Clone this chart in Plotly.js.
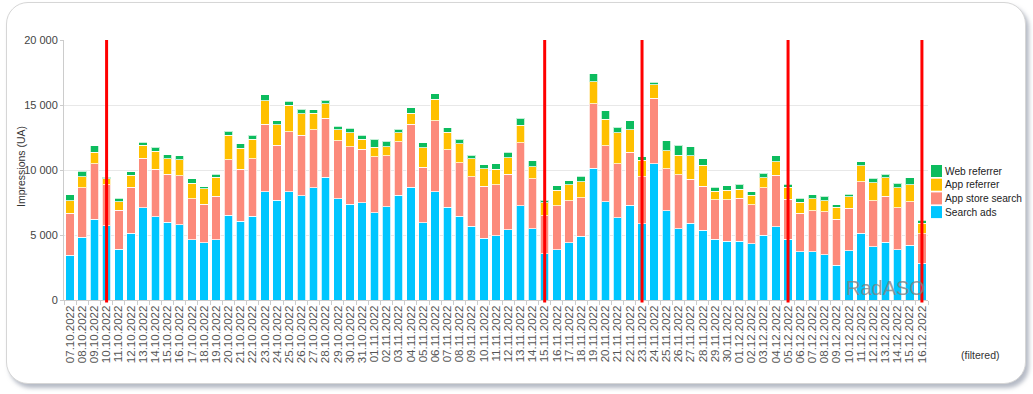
<!DOCTYPE html>
<html>
<head>
<meta charset="utf-8">
<script src="https://cdn.plot.ly/plotly-3.0.1.min.js"></script>
<style>
  html, body { margin: 0; padding: 0; background: #ffffff; }
  #wrap { position: relative; width: 1033px; height: 394px; overflow: hidden; background: #ffffff; }
  #card { position: absolute; left: 6px; top: 2px; width: 1018px; height: 380px;
          border: 1px solid #d6d6d6; border-radius: 22px; background: #fff;
          box-shadow: 3px 4px 4px rgba(120,130,150,0.55); }
  #chart { position: absolute; left: 0; top: 0; width: 1033px; height: 394px; }
</style>
</head>
<body>
<div id="wrap">
  <div id="card"></div>
  <div id="chart"></div>
</div>
<script>
const dates = [
  "07.10.2022","08.10.2022","09.10.2022","10.10.2022","11.10.2022","12.10.2022","13.10.2022","14.10.2022","15.10.2022","16.10.2022",
  "17.10.2022","18.10.2022","19.10.2022","20.10.2022","21.10.2022","22.10.2022","23.10.2022","24.10.2022","25.10.2022","26.10.2022",
  "27.10.2022","28.10.2022","29.10.2022","30.10.2022","31.10.2022","01.11.2022","02.11.2022","03.11.2022","04.11.2022","05.11.2022",
  "06.11.2022","07.11.2022","08.11.2022","09.11.2022","10.11.2022","11.11.2022","12.11.2022","13.11.2022","14.11.2022","15.11.2022",
  "16.11.2022","17.11.2022","18.11.2022","19.11.2022","20.11.2022","21.11.2022","22.11.2022","23.11.2022","24.11.2022","25.11.2022",
  "26.11.2022","27.11.2022","28.11.2022","29.11.2022","30.11.2022","01.12.2022","02.12.2022","03.12.2022","04.12.2022","05.12.2022",
  "06.12.2022","07.12.2022","08.12.2022","09.12.2022","10.12.2022","11.12.2022","12.12.2022","13.12.2022","14.12.2022","15.12.2022",
  "16.12.2022"
];
const searchAds = [
  3460,4820,6230,5720,3900,5150,7080,6410,5970,5790,
  4640,4410,4640,6510,6050,6440,8330,7670,8330,8030,
  8640,9440,7770,7360,7490,6720,7180,8050,8690,5950,
  8330,7130,6440,5670,4740,4950,5410,7260,5490,3560,
  3870,4410,4900,10130,7560,6330,7280,5850,10490,6850,
  5490,5920,5360,4670,4510,4510,4310,5000,5620,4690,
  3720,3720,3490,2690,3790,5150,4080,4440,3870,4230,
  2820
];
const appStoreSearch = [
  3230,3820,4260,3150,3020,3540,3840,3640,3720,3750,
  3130,2970,3330,4260,4000,4430,5180,4250,4620,4640,
  4440,4560,4490,4410,4100,4310,3920,4130,4820,4260,
  5460,4410,4120,3820,4000,3920,4280,4820,3840,2930,
  3390,3210,2970,4970,4290,4160,4080,3640,5020,3230,
  4150,3360,3380,3050,3210,3310,3000,3640,3970,3050,
  2950,3130,3300,3520,3260,3930,3540,3530,3210,3330,
  2280
];
const appReferrer = [
  930,850,890,440,640,900,1000,1410,1160,1230,
  1230,1160,1470,1900,1640,1490,1820,1570,2050,1660,
  1300,1100,820,1080,790,710,670,670,870,1510,
  1650,1380,1470,1360,1360,1180,1260,1380,930,1000,
  1200,1230,1230,1690,2050,2360,1720,1250,1030,1410,
  1510,1800,1640,640,740,690,740,770,1050,930,
  840,920,850,920,900,1250,1410,1440,1560,1310,
  800
];
const webReferrer = [
  460,430,490,130,260,260,230,280,330,330,
  310,180,230,300,340,310,460,280,280,360,
  240,260,280,360,290,620,440,280,410,380,
  430,340,350,300,310,440,410,510,460,200,
  310,330,410,620,660,430,690,290,200,770,
  770,710,470,310,310,410,280,330,440,250,
  310,330,360,200,200,310,350,260,360,540,
  250
];
const markerDates = ["10.10.2022","15.11.2022","23.11.2022","05.12.2022","16.12.2022"];
const yTickVals = [0, 5000, 10000, 15000, 20000];
const yTickText = ["0", "5 000", "10 000", "15 000", "20 000"];
const seriesNames = ["Search ads", "App store search", "App referrer", "Web referrer"];
const seriesColors = ["#00c6ff", "#fc8a7b", "#ffc000", "#0cbc5e"];
const seriesValues = [searchAds, appStoreSearch, appReferrer, webReferrer];

const W = 1033, H = 394;
const M = { l: 64, r: 105, t: 40, b: 94 };
const plotW = W - M.l - M.r, plotH = H - M.t - M.b;
const px2x = px => (px - M.l) / plotW;
const py2y = py => (M.t + plotH - py) / plotH;

const outline = { color: "rgba(255,255,255,0.75)", width: 1 };

const traces = seriesNames.map((name, i) => ({
  type: "bar", name: name, x: dates, y: seriesValues[i],
  marker: { color: seriesColors[i], line: outline },
  showlegend: false
}));

const shapes = markerDates.map(d => ({
  type: "line", xref: "x", yref: "paper",
  x0: d, x1: d, y0: -0.01, y1: 1,
  line: { color: "#ff0000", width: 3 }
}));

const annotations = [
  { text: "Impressions (UA)", xref: "paper", yref: "paper", x: px2x(21), y: py2y(167),
    xanchor: "center", yanchor: "middle", textangle: -90, showarrow: false,
    font: { size: 10.5, color: "#333" } },
  { text: "(filtered)", xref: "paper", yref: "paper", x: px2x(980), y: py2y(355),
    xanchor: "center", yanchor: "middle", showarrow: false,
    font: { size: 10.5, color: "#333" } },
  { text: "RadASO", xref: "paper", yref: "paper", x: px2x(927), y: py2y(301),
    xanchor: "right", yanchor: "bottom", showarrow: false,
    font: { size: 20, color: "rgba(130,130,130,0.8)" } }
];

// compact legend (top item = last series)
const legendRowTop = 171, legendRowStep = 13.7;
for (let k = 0; k < seriesNames.length; k++) {
  const i = seriesNames.length - 1 - k;
  const cy = legendRowTop + k * legendRowStep;
  shapes.push({ type: "rect", xref: "paper", yref: "paper",
    x0: px2x(931), x1: px2x(942), y0: py2y(cy + 6), y1: py2y(cy - 6),
    fillcolor: seriesColors[i], line: { width: 0 } });
  annotations.push({ text: seriesNames[i], xref: "paper", yref: "paper",
    x: px2x(943), y: py2y(cy), xanchor: "left", yanchor: "middle", showarrow: false,
    font: { size: 10.2, color: "#222" } });
}

const layout = {
  width: W, height: H,
  margin: { l: M.l, r: M.r, t: M.t, b: M.b, autoexpand: false },
  paper_bgcolor: "rgba(0,0,0,0)",
  plot_bgcolor: "rgba(0,0,0,0)",
  font: { family: "Liberation Sans, Arial, sans-serif", size: 11, color: "#444" },
  barmode: "stack",
  bargap: 0.3,
  showlegend: false,
  xaxis: {
    type: "category",
    range: [-0.5, dates.length - 0.5],
    tickmode: "linear", tick0: 0, dtick: 1,
    tickangle: -90,
    tickson: "boundaries",
    ticks: "outside", ticklen: 4, tickcolor: "#cccccc",
    showline: true, linecolor: "#cccccc", linewidth: 1,
    showgrid: false,
    tickfont: { size: 11.5, color: "#555" },
    automargin: false
  },
  yaxis: {
    range: [0, 20000],
    tickmode: "array", tickvals: yTickVals, ticktext: yTickText,
    ticks: "outside", ticklen: 3, tickcolor: "#cccccc",
    showline: true, linecolor: "#cccccc", linewidth: 1,
    gridcolor: "#e8e8e8", gridwidth: 1,
    zeroline: false,
    tickfont: { size: 11, color: "#444" },
    automargin: false
  },
  shapes: shapes,
  annotations: annotations
};

Plotly.newPlot("chart", traces, layout, { displayModeBar: false, staticPlot: true });
</script>
</body>
</html>
